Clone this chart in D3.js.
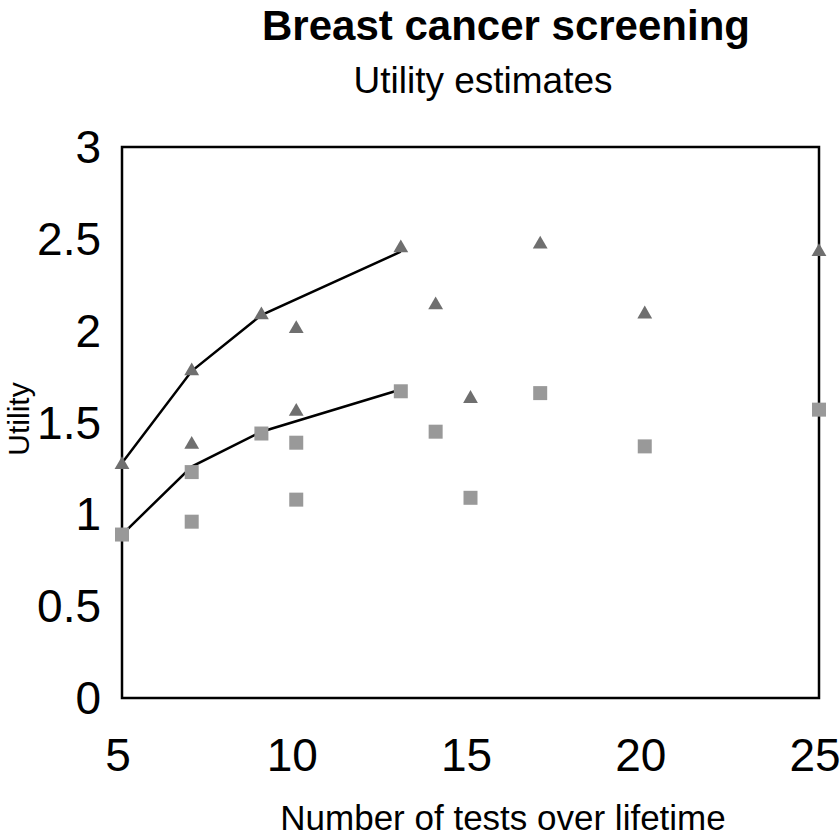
<!DOCTYPE html>
<html>
  <head>
    <script src="https://d3js.org/d3.v7.min.js"></script>
    <meta name="viewport" content="width=device-width, initial-scale=1.0">
    <style>
      body { margin: 0; background: #fff; }
      text { font-family: "Liberation Sans", Arial, Helvetica, sans-serif; fill: #000; }
    </style>
  </head>
  <body>
    <div id="chart"></div>
    <script>
// data
var xTicks = [5, 10, 15, 20, 25];
var yTicks = [0, 0.5, 1, 1.5, 2, 2.5, 3];

// triangles
var triX = [5, 7, 7, 9, 10, 10, 13, 14, 15, 17, 20, 25];
var triY = [1.27, 1.78, 1.38, 2.085, 2.01, 1.56, 2.45, 2.14, 1.63, 2.47, 2.09, 2.43];

// squares
var sqX = [5, 7, 7, 9, 10, 10, 13, 14, 15, 17, 20, 25];
var sqY = [0.89, 1.23, 0.96, 1.44, 1.39, 1.08, 1.67, 1.45, 1.09, 1.66, 1.37, 1.57];

// the two curves
var upperX = [5, 7, 9, 13];
var upperY = [1.28, 1.78, 2.085, 2.43];
var lowerX = [5, 7, 9, 13];
var lowerY = [0.89, 1.26, 1.45, 1.68];

(function(){
  var width = 840, height = 837;
  var left = 122, right = 819, top = 147, bottom = 698;

  var svg = d3.select("#chart")
    .append("svg")
    .attr("width", width)
    .attr("height", height);

  var x = d3.scaleLinear().domain([5, 25]).range([left, right]);
  var y = d3.scaleLinear().domain([0, 3]).range([bottom, top]);

  // titles
  svg.append("text")
    .attr("x", 506).attr("y", 40)
    .attr("text-anchor", "middle")
    .style("font-size", "42px").style("font-weight", "bold")
    .text("Breast cancer screening");
  svg.append("text")
    .attr("x", 483).attr("y", 93)
    .attr("text-anchor", "middle")
    .style("font-size", "37px")
    .text("Utility estimates");

  // tick labels
  svg.selectAll(".xt").data(xTicks).enter().append("text")
    .attr("class", "xt")
    .attr("x", function(d){ return x(d) - 4; })
    .attr("y", 771)
    .attr("text-anchor", "middle")
    .style("font-size", "46px")
    .text(function(d){ return d; });

  svg.selectAll(".yt").data(yTicks).enter().append("text")
    .attr("class", "yt")
    .attr("x", 101)
    .attr("y", function(d){ return y(d) + 16; })
    .attr("text-anchor", "end")
    .style("font-size", "46px")
    .text(function(d){ return d; });

  // axis titles
  svg.append("text")
    .attr("x", 503).attr("y", 830)
    .attr("text-anchor", "middle")
    .style("font-size", "35px")
    .text("Number of tests over lifetime");
  svg.append("text")
    .attr("transform", "translate(29,419) rotate(-90)")
    .attr("text-anchor", "middle")
    .style("font-size", "30px")
    .text("Utility");

  // frame
  svg.append("rect")
    .attr("x", left).attr("y", top)
    .attr("width", right - left).attr("height", bottom - top)
    .attr("fill", "none")
    .attr("stroke", "#000")
    .attr("stroke-width", 2.5);

  // curves
  var line = d3.line()
    .x(function(d){ return x(d[0]); })
    .y(function(d){ return y(d[1]); });

  [[upperX, upperY], [lowerX, lowerY]].forEach(function(s){
    svg.append("path")
      .datum(d3.zip(s[0], s[1]))
      .attr("d", line)
      .attr("fill", "none")
      .attr("stroke", "#000")
      .attr("stroke-width", 2.5);
  });

  // squares
  var sq = d3.symbol().type(d3.symbolSquare).size(196);
  svg.selectAll(".sq").data(d3.zip(sqX, sqY)).enter().append("path")
    .attr("class", "sq")
    .attr("d", sq)
    .attr("transform", function(d){ return "translate(" + x(d[0]) + "," + y(d[1]) + ")"; })
    .attr("fill", "#999999");

  // triangles
  var tri = d3.symbol().type(d3.symbolTriangle).size(95);
  svg.selectAll(".tri").data(d3.zip(triX, triY)).enter().append("path")
    .attr("class", "tri")
    .attr("d", tri)
    .attr("transform", function(d){ return "translate(" + x(d[0]) + "," + y(d[1]) + ")"; })
    .attr("fill", "#6f6f6f");
})();
    </script>
  </body>
</html>
